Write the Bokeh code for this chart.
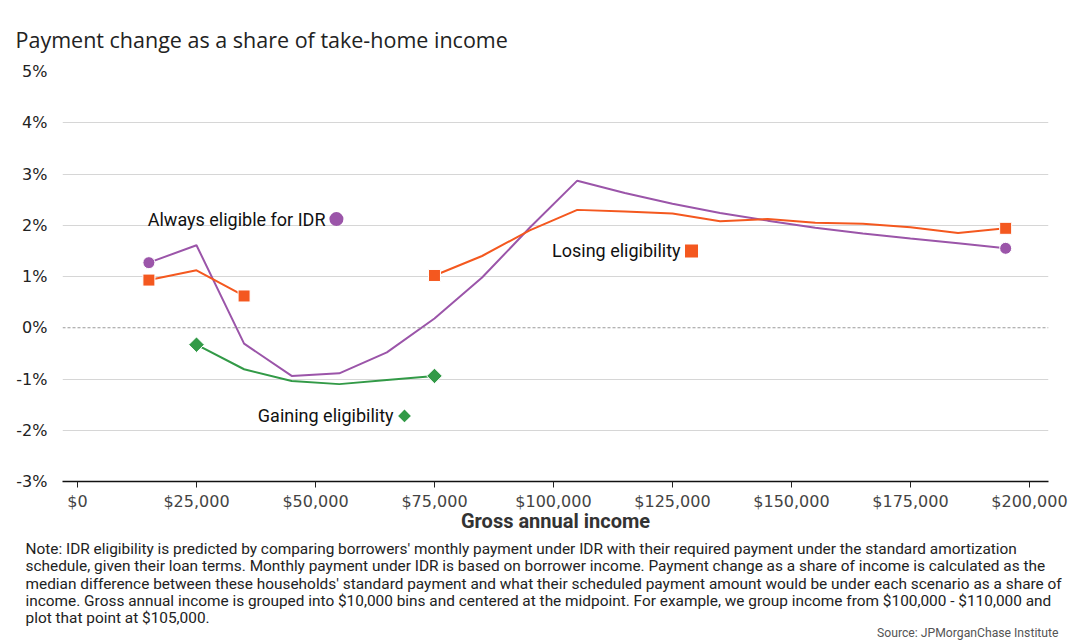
import math
from bokeh.plotting import figure
from bokeh.models import FixedTicker, Label, Span, Title
from bokeh.embed import file_html
from bokeh.resources import INLINE

# ---------------- data ----------------
income = [15000, 25000, 35000, 45000, 55000, 65000, 75000, 85000, 95000, 105000,
          115000, 125000, 135000, 145000, 155000, 165000, 175000, 185000, 195000]
always_eligible = [1.27, 1.61, -0.31, -0.94, -0.89, -0.48, 0.18, 0.98, 1.95, 2.87,
                   2.63, 2.42, 2.24, 2.09, 1.95, 1.84, 1.74, 1.65, 1.55]
losing_eligibility = [0.93, 1.12, 0.62, None, None, None, 1.02, 1.40, 1.90, 2.30,
                      2.27, 2.23, 2.08, 2.12, 2.05, 2.03, 1.96, 1.85, 1.94]
gaining_eligibility = [None, -0.33, -0.81, -1.04, -1.10, -1.02, -0.94, None, None, None,
                       None, None, None, None, None, None, None, None, None]

x_ticks = [0, 25000, 50000, 75000, 100000, 125000, 150000, 175000, 200000]
x_tick_labels = ["$0", "$25,000", "$50,000", "$75,000", "$100,000", "$125,000",
                 "$150,000", "$175,000", "$200,000"]
y_ticks = [-3, -2, -1, 0, 1, 2, 3, 4, 5]
y_tick_labels = ["-3%", "-2%", "-1%", "0%", "1%", "2%", "3%", "4%", "5%"]

series_names = ["Always eligible for IDR", "Losing eligibility", "Gaining eligibility"]

title_text = "Payment change as a share of take-home income"
x_title = "Gross annual income"
note_lines = [
    "Note: IDR eligibility is predicted by comparing borrowers' monthly payment under IDR with their required payment under the standard amortization",
    "schedule, given their loan terms. Monthly payment under IDR is based on borrower income. Payment change as a share of income is calculated as the",
    "median difference between these households' standard payment and what their scheduled payment amount would be under each scenario as a share of",
    "income. Gross annual income is grouped into $10,000 bins and centered at the midpoint. For example, we group income from $100,000 - $110,000 and",
    "plot that point at $105,000.",
]
source_text = "Source: JPMorganChase Institute"

PURPLE = "#9b55a9"
ORANGE = "#f4581f"
GREEN = "#329a47"

# ---------------- figure ----------------
W, H = 1070, 641
p = figure(width=W, height=H, output_backend="svg", toolbar_location=None,
           x_range=(-3150, 204000), y_range=(-3, 5),
           min_border_left=62, min_border_right=22, min_border_top=71, min_border_bottom=160)
p.outline_line_color = None
p.background_fill_color = "white"

# axes
p.xaxis.ticker = FixedTicker(ticks=x_ticks)
p.xaxis.major_label_overrides = {t: l for t, l in zip(x_ticks, x_tick_labels)}
p.xaxis.minor_tick_line_color = None
p.xaxis.major_tick_out = 6
p.xaxis.major_tick_in = 0
p.xaxis.major_tick_line_color = "#222222"
p.xaxis.axis_line_color = "#111111"
p.xaxis.axis_line_width = 1.5
p.xaxis.major_label_text_font = "DejaVu Sans"
p.xaxis.major_label_text_font_size = "16px"
p.xaxis.major_label_text_color = "#444444"
p.xaxis.major_label_standoff = 4
p.xaxis.axis_label = x_title
p.xaxis.axis_label_text_font = "Roboto"
p.xaxis.axis_label_text_font_size = "20px"
p.xaxis.axis_label_text_font_style = "bold"
p.xaxis.axis_label_text_color = "#333333"
p.xaxis.axis_label_standoff = -5

p.yaxis.ticker = FixedTicker(ticks=y_ticks)
p.yaxis.major_label_overrides = {t: l for t, l in zip(y_ticks, y_tick_labels)}
p.yaxis.minor_tick_line_color = None
p.yaxis.major_tick_line_color = None
p.yaxis.axis_line_color = None
p.yaxis.major_label_text_font = "DejaVu Sans"
p.yaxis.major_label_text_font_size = "16px"
p.yaxis.major_label_text_color = "#222222"
p.yaxis.major_label_standoff = 9

p.xgrid.grid_line_color = None
p.ygrid.ticker = FixedTicker(ticks=[t for t in y_ticks if t != 0])
p.ygrid.grid_line_color = "#d6d6d6"
p.ygrid.grid_line_width = 1

p.add_layout(Span(location=0, dimension="width", line_color="#9a9a9a",
                  line_dash="3 2", line_width=1))

# ---------------- series ----------------
def nanify(v):
    return [float("nan") if a is None else a for a in v]

def segment_ends(xs, ys):
    ex, ey = [], []
    n = len(ys)
    for i, y in enumerate(ys):
        if y is None:
            continue
        prev_none = i == 0 or ys[i - 1] is None
        next_none = i == n - 1 or ys[i + 1] is None
        if prev_none or next_none:
            ex.append(xs[i]); ey.append(y)
    return ex, ey

styles = [
    (always_eligible, PURPLE, "circle", 12, 0),
    (losing_eligibility, ORANGE, "square", 12, 0),
    (gaining_eligibility, GREEN, "square", 11, math.pi / 4),
]
for ys, col, mk, sz, ang in styles:
    p.line(income, nanify(ys), line_color=col, line_width=2)
    ex, ey = segment_ends(income, ys)
    p.scatter(ex, ey, marker=mk, size=sz, angle=ang, fill_color=col,
              line_color="white", line_width=1)

# ---------------- inline series labels ----------------
label_pos = [(52100, 2.12), (126700, 1.50), (66400, -1.72)]
label_markers = [("circle", PURPLE, 14, 0), ("square", ORANGE, 13, 0), ("square", GREEN, 9, math.pi / 4)]
for name, (lx, ly), (mk, col, sz, ang) in zip(series_names, label_pos, label_markers):
    p.add_layout(Label(x=lx, y=ly, text=name, text_align="right", text_baseline="middle",
                       text_font="Roboto", text_font_size="18px", text_color="#111111"))
    p.scatter([lx + 2300], [ly], marker=mk, size=sz, angle=ang, fill_color=col, line_color=None)

# ---------------- titles / notes ----------------
p.add_layout(Title(text=title_text, align="left", offset=-47, standoff=35,
                   text_font="Open Sans", text_font_size="21.5px", text_font_style="normal",
                   text_color="#222222"), "above")

p.add_layout(Title(text="\n".join(note_lines), align="left", offset=-37, standoff=4,
                   text_font="Roboto", text_font_size="15.4px", text_font_style="normal",
                   text_line_height=0.97, text_color="#222222"), "below")

p.add_layout(Title(text=source_text, align="right", offset=-10, standoff=-11,
                   text_font="Roboto", text_font_size="12.2px", text_font_style="normal",
                   text_color="#555555"), "below")

open("out.html", "w").write(file_html(p, INLINE))
